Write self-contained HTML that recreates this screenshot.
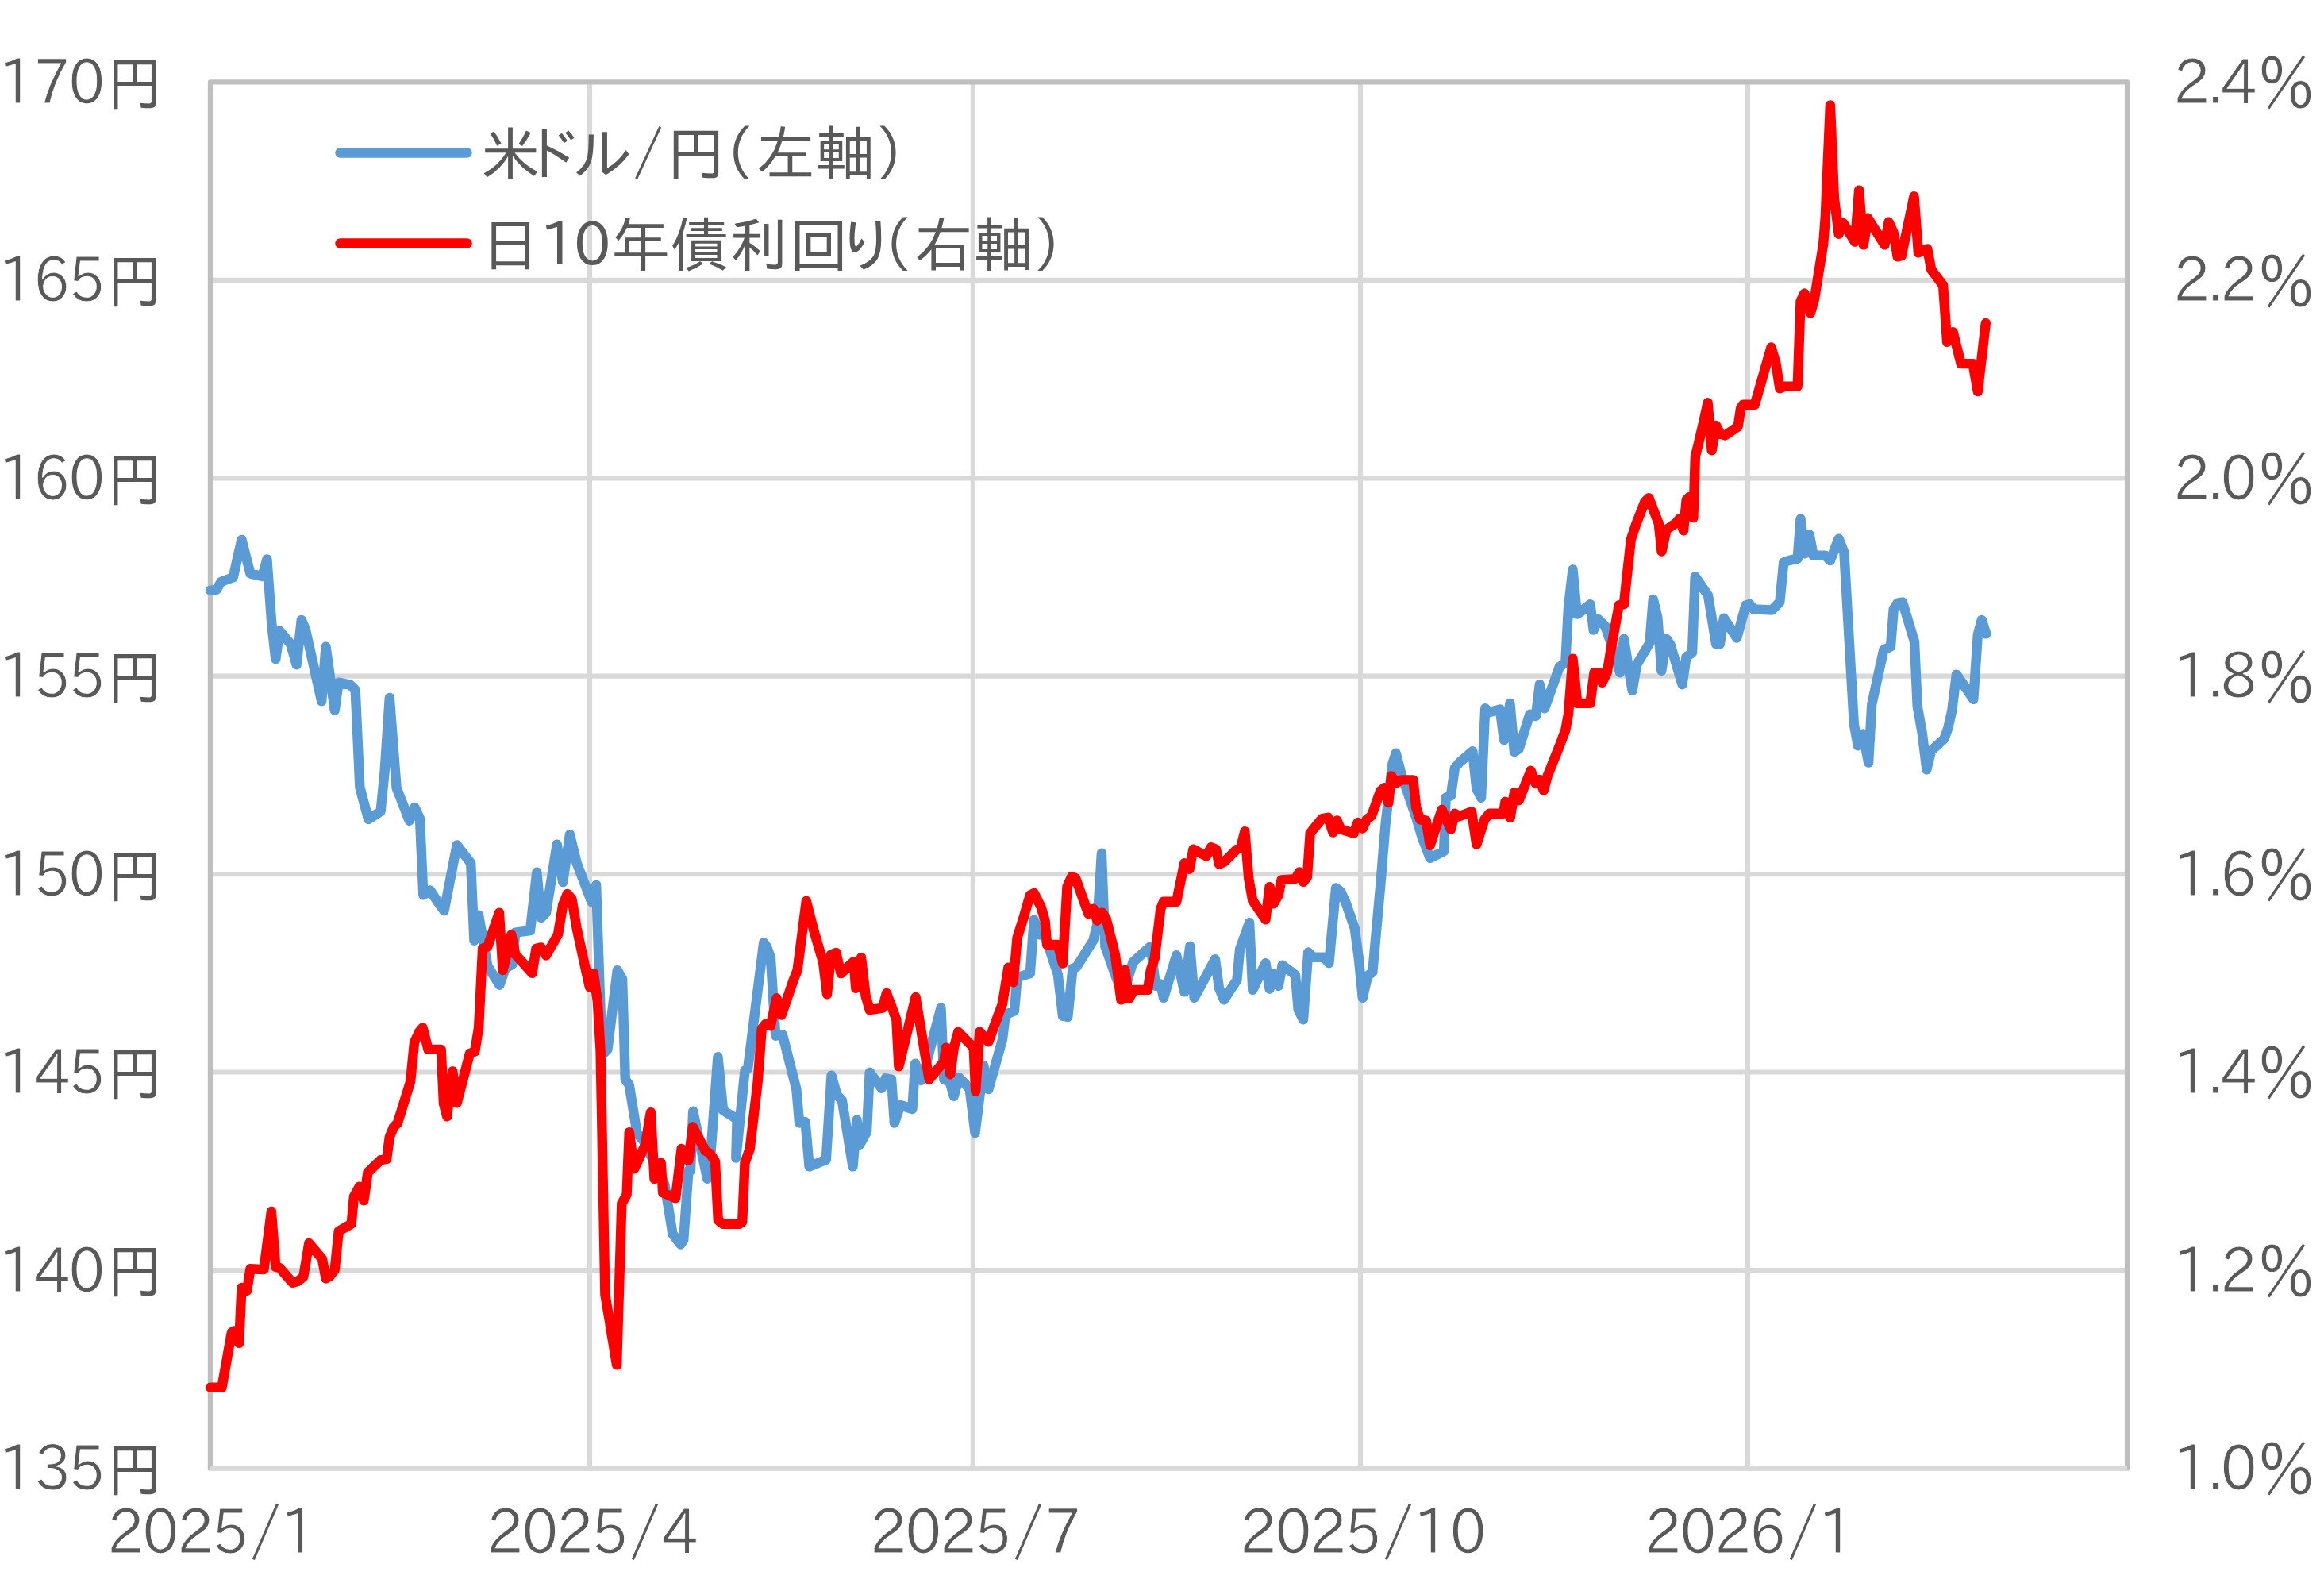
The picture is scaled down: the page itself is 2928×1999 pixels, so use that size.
<!DOCTYPE html><html lang="ja"><head><meta charset="utf-8"><title>米ドル/円(左軸) 日10年債利回り(右軸)</title>
<style>html,body{margin:0;padding:0;background:#fff;overflow:hidden}svg{display:block}text{font-family:"IPAGothic","Liberation Sans","Noto Sans CJK JP",sans-serif;fill:#595959}.p{font-family:"IPAPGothic","Liberation Sans","IPAGothic","Noto Sans CJK JP",sans-serif}</style></head><body>
<svg width="2928" height="1999" viewBox="0 0 2928 1999">
<rect width="2928" height="1999" fill="#fff"/>
<g stroke="#d9d9d9" stroke-width="6.2" fill="none">
<line x1="264.9" y1="352.8" x2="2680.0" y2="352.8"/>
<line x1="264.9" y1="602.3" x2="2680.0" y2="602.3"/>
<line x1="264.9" y1="851.7" x2="2680.0" y2="851.7"/>
<line x1="264.9" y1="1101.1" x2="2680.0" y2="1101.1"/>
<line x1="264.9" y1="1350.5" x2="2680.0" y2="1350.5"/>
<line x1="264.9" y1="1600.0" x2="2680.0" y2="1600.0"/>
<line x1="743.0" y1="103.4" x2="743.0" y2="1849.4"/>
<line x1="1225.9" y1="103.4" x2="1225.9" y2="1849.4"/>
<line x1="1714.0" y1="103.4" x2="1714.0" y2="1849.4"/>
<line x1="2202.0" y1="103.4" x2="2202.0" y2="1849.4"/>
</g>
<rect x="264.9" y="103.4" width="2415.1" height="1746.0" stroke="#bfbfbf" stroke-width="6.2" fill="none" stroke-linejoin="round"/>
<line x1="264.9" y1="1849.4" x2="2680.0" y2="1849.4" stroke="#d9d9d9" stroke-width="6.6"/>
<line x1="428.5" y1="192.5" x2="588.5" y2="192.5" stroke="#5b9bd5" stroke-width="12.4" stroke-linecap="round"/>
<line x1="428.5" y1="306.5" x2="588.5" y2="306.5" stroke="#ff0000" stroke-width="12.4" stroke-linecap="round"/>
<text x="606.0 656.1 721.9 798.1 839.6 912.4 952.7 1027.1 1102.8" y="221" font-size="75">米ドル/円(左軸)</text>
<text y="335.5" font-size="75"><tspan x="606.0">日</tspan><tspan class="p" x="680.0 722.9" font-size="74" dy="-2">10</tspan><tspan x="769.3 844.5 919.0 994.0 1054.3 1111.8 1151.4 1226.2 1301.8" dy="2">年債利回り(右軸)</tspan></text>
<polyline points="265.0,743.6 272.5,743.1 278.7,732.8 293.7,727.3 304.4,679.9 315.4,722.4 330.6,726.1 336.4,704.4 342.4,787.2 347.3,830.2 352.3,794.7 366.1,811.0 373.6,837.2 379.8,781.0 384.8,792.7 405.2,883.3 410.5,814.7 421.7,894.6 426.7,859.6 440.9,862.6 447.7,869.1 453.4,991.9 464.1,1031.9 479.6,1022.0 484.6,971.8 490.8,879.0 499.6,992.5 515.8,1033.7 522.5,1017.0 529.0,1031.2 533.3,1127.3 542.0,1121.5 550.7,1134.8 559.5,1147.2 575.7,1064.4 593.2,1087.3 597.4,1184.7 603.1,1152.7 614.4,1217.1 629.4,1240.8 636.8,1219.6 645.6,1214.6 649.3,1174.7 668.0,1172.2 676.3,1098.6 681.8,1156.0 688.0,1149.7 701.7,1063.6 709.2,1111.1 717.9,1051.2 726.7,1087.3 745.4,1136.0 751.1,1114.8 756.6,1274.5 760.4,1326.9 765.4,1321.9 777.8,1222.1 784.1,1233.3 787.8,1359.4 792.8,1366.9 802.5,1427.0 812.4,1439.4 837.5,1492.2 847.5,1554.6 857.4,1567.5 861.2,1562.0 867.4,1474.7 869.9,1474.7 873.2,1399.8 891.1,1484.7 894.9,1459.7 904.4,1331.2 911.1,1398.6 928.6,1409.8 927.3,1458.5 938.5,1348.4 942.2,1345.9 962.2,1187.4 965.9,1192.4 970.9,1206.1 977.2,1304.7 985.9,1303.4 1003.4,1372.1 1007.1,1414.5 1014.6,1413.2 1019.6,1469.4 1040.8,1460.7 1047.5,1354.6 1054.5,1379.5 1060.8,1385.8 1074.5,1469.4 1079.5,1410.7 1083.2,1441.9 1092.0,1425.7 1095.7,1350.8 1110.7,1370.8 1115.7,1358.3 1123.1,1359.6 1126.9,1414.5 1134.4,1392.0 1149.4,1397.0 1153.1,1339.6 1160.6,1360.8 1165.6,1344.6 1185.5,1269.7 1189.3,1359.6 1196.8,1363.3 1201.8,1380.8 1208.0,1357.1 1214.2,1363.3 1221.7,1372.1 1228.5,1427.0 1239.2,1342.1 1245.4,1372.1 1262.9,1309.7 1266.6,1279.7 1271.6,1276.0 1277.9,1273.5 1281.6,1231.1 1297.8,1226.1 1302.8,1158.7 1310.3,1177.4 1316.6,1178.6 1332.8,1227.3 1339.0,1279.7 1345.3,1281.0 1351.5,1219.8 1356.2,1218.2 1377.4,1184.5 1382.4,1164.5 1387.9,1074.7 1392.4,1192.0 1407.4,1234.4 1416.1,1249.4 1427.3,1212.0 1449.8,1192.0 1456.0,1241.9 1462.3,1239.4 1466.0,1256.9 1482.2,1203.2 1492.2,1249.4 1499.2,1192.0 1504.7,1256.9 1520.9,1226.9 1530.9,1208.2 1535.9,1244.4 1542.1,1259.4 1558.4,1234.4 1562.1,1195.7 1574.1,1162.0 1578.3,1246.9 1594.5,1213.2 1599.5,1245.6 1604.5,1226.9 1610.8,1241.9 1615.7,1215.7 1632.0,1228.2 1635.7,1271.8 1642.0,1284.3 1648.2,1199.5 1654.4,1205.7 1668.2,1205.7 1674.4,1213.2 1683.1,1118.4 1689.4,1123.4 1695.6,1137.1 1706.8,1169.5 1711.8,1207.0 1716.8,1256.9 1723.1,1229.4 1729.3,1224.4 1739.3,1114.6 1745.5,1038.5 1754.3,962.4 1758.7,948.7 1765.5,974.9 1784.2,1029.8 1791.7,1054.7 1801.7,1080.9 1819.1,1072.2 1821.6,1004.8 1827.9,1002.3 1832.9,967.4 1839.1,959.9 1855.3,946.2 1860.3,993.6 1866.1,1004.8 1871.2,892.2 1876.2,897.2 1889.9,893.4 1894.9,932.1 1897.4,924.6 1902.4,885.9 1907.9,947.1 1913.6,943.3 1927.4,899.7 1934.9,902.1 1939.8,862.2 1946.1,892.2 1964.8,839.8 1972.3,834.8 1976.0,764.9 1981.5,717.5 1986.8,773.6 1991.0,771.1 2003.5,761.1 2007.7,793.6 2013.5,779.9 2022.2,788.6 2034.7,824.8 2040.9,847.2 2045.9,804.8 2056.6,869.7 2062.1,837.3 2078.4,809.8 2082.8,754.9 2088.3,777.4 2093.3,844.7 2099.6,804.8 2104.6,812.3 2119.5,862.2 2124.5,827.3 2132.0,822.3 2135.7,726.2 2152.0,749.9 2162.0,811.1 2166.9,811.1 2171.9,778.6 2188.2,803.6 2199.4,762.4 2204.4,761.1 2209.4,767.4 2232.3,768.5 2242.3,758.5 2247.2,708.6 2253.5,706.1 2264.7,703.6 2268.5,653.7 2273.9,697.3 2279.7,673.6 2284.7,699.8 2299.7,699.8 2305.9,706.1 2316.6,678.6 2323.4,696.1 2335.8,912.0 2340.8,939.4 2347.1,924.4 2354.1,960.6 2358.3,887.0 2373.3,818.4 2382.0,814.6 2385.7,767.2 2390.7,759.7 2397.0,758.5 2412.0,808.4 2415.7,889.5 2421.9,924.4 2427.4,969.4 2433.2,945.6 2449.4,930.7 2454.4,916.9 2459.4,894.5 2464.9,849.6 2486.3,880.8 2491.8,799.7 2496.8,780.9 2502.3,798.4" fill="none" stroke="#5b9bd5" stroke-width="12.4" stroke-linejoin="round" stroke-linecap="round"/>
<polyline points="265.0,1747.6 279.5,1747.6 291.9,1678.2 294.9,1676.4 301.2,1691.9 304.4,1622.0 311.2,1625.8 315.4,1598.3 332.4,1599.1 341.9,1526.0 347.3,1595.8 352.3,1597.1 368.6,1615.8 374.8,1614.1 382.3,1608.3 389.3,1565.9 406.0,1585.9 410.5,1610.3 416.0,1607.1 421.7,1599.6 426.7,1550.9 442.7,1541.7 445.9,1507.2 452.7,1494.8 458.4,1512.2 463.4,1476.8 479.6,1461.1 487.1,1459.8 490.8,1432.4 495.8,1419.9 500.8,1414.9 517.1,1362.5 522.0,1313.2 528.3,1299.5 532.5,1294.5 539.5,1321.9 555.7,1321.9 559.0,1390.1 563.2,1406.3 570.2,1349.4 575.7,1389.3 591.9,1326.9 598.2,1324.4 603.1,1294.5 608.1,1194.7 614.4,1192.2 628.9,1149.7 633.6,1222.1 644.3,1177.2 649.3,1202.1 670.5,1225.9 675.5,1194.7 681.8,1193.4 688.0,1203.4 703.0,1177.2 709.2,1139.8 714.7,1126.0 720.4,1132.3 726.7,1169.7 739.2,1227.1 742.9,1243.3 747.9,1225.9 752.9,1262.0 756.6,1324.4 762.4,1630.8 777.1,1719.4 783.3,1516.0 789.6,1504.7 792.8,1426.1 799.1,1472.3 812.8,1442.4 819.8,1401.2 824.5,1484.8 832.7,1464.8 835.2,1502.3 851.1,1509.3 858.6,1446.9 867.3,1461.9 872.8,1419.5 888.6,1449.4 894.8,1453.2 901.0,1463.1 904.8,1537.0 911.0,1541.8 931.0,1541.8 935.2,1539.3 938.5,1464.6 944.7,1447.2 954.7,1362.3 959.7,1295.9 964.7,1289.7 970.9,1292.2 978.4,1257.3 984.6,1278.5 999.6,1234.8 1004.6,1222.3 1015.8,1135.0 1025.8,1173.7 1037.1,1212.3 1042.0,1252.3 1047.0,1202.4 1053.3,1199.9 1059.5,1226.1 1075.7,1211.1 1078.2,1244.8 1085.0,1206.1 1090.7,1254.8 1095.7,1272.2 1111.9,1269.7 1116.9,1251.0 1123.1,1267.2 1129.4,1284.7 1132.4,1343.4 1153.6,1256.0 1170.6,1359.6 1189.3,1337.1 1191.8,1319.7 1197.3,1353.3 1201.8,1319.7 1207.3,1299.7 1226.7,1319.7 1229.2,1374.6 1234.2,1299.7 1245.4,1312.2 1255.4,1284.7 1262.9,1264.7 1270.4,1218.6 1276.6,1237.3 1281.6,1181.1 1289.1,1157.4 1297.8,1127.5 1302.8,1125.0 1311.6,1142.5 1316.6,1159.9 1319.1,1189.9 1332.8,1189.9 1339.0,1213.6 1344.5,1117.1 1350.0,1104.6 1355.0,1105.9 1371.2,1150.8 1377.4,1144.6 1382.4,1159.5 1388.6,1149.6 1393.6,1157.1 1404.9,1202.0 1412.4,1259.4 1417.3,1221.9 1422.3,1258.1 1428.6,1246.9 1446.0,1246.9 1449.8,1221.9 1454.8,1207.0 1462.3,1144.6 1466.0,1135.8 1482.2,1135.8 1492.2,1087.2 1498.5,1094.7 1503.4,1069.7 1519.7,1078.4 1525.9,1067.2 1532.1,1069.7 1535.9,1088.4 1542.1,1085.9 1558.4,1069.7 1563.3,1067.2 1568.3,1047.2 1573.3,1107.1 1578.3,1134.6 1594.5,1158.3 1599.5,1117.1 1604.5,1138.3 1610.8,1127.1 1614.5,1108.4 1632.0,1107.1 1637.0,1098.4 1642.0,1110.9 1646.9,1104.6 1650.7,1049.7 1654.4,1044.7 1665.7,1031.0 1673.1,1029.8 1679.4,1048.5 1684.4,1033.5 1689.4,1044.7 1705.6,1049.7 1710.6,1036.0 1716.8,1043.5 1721.8,1032.3 1728.1,1027.3 1739.3,996.1 1744.3,992.3 1749.3,1011.1 1753.0,977.4 1759.2,986.1 1765.5,982.4 1780.5,982.4 1784.2,1017.3 1789.2,1032.3 1796.7,1033.5 1801.7,1064.7 1816.6,1019.8 1827.9,1044.7 1832.9,1024.8 1837.9,1028.5 1854.1,1022.3 1860.3,1063.5 1870.3,1032.3 1876.5,1024.8 1894.0,1024.8 1896.5,1009.8 1902.7,1029.8 1907.9,998.2 1913.6,1008.2 1928.6,970.8 1934.9,987.0 1939.8,982.0 1944.8,995.7 1949.8,977.0 1964.8,939.6 1972.3,919.6 1976.0,899.7 1981.5,829.8 1987.3,885.9 2003.5,885.9 2008.5,847.2 2014.7,847.2 2018.5,859.7 2024.7,847.2 2029.7,817.3 2039.7,762.4 2045.9,761.1 2054.8,679.5 2061.1,660.8 2072.3,632.1 2077.3,627.1 2089.8,659.5 2093.5,694.5 2099.7,667.0 2112.2,658.3 2116.0,653.3 2121.0,668.3 2124.7,629.6 2128.4,625.9 2133.4,652.1 2135.9,574.7 2140.9,554.7 2147.2,527.3 2151.6,507.3 2156.6,567.2 2162.1,536.0 2167.1,546.0 2173.4,548.5 2189.6,537.3 2193.3,513.6 2195.8,509.8 2210.8,509.8 2231.5,437.4 2237.3,456.9 2242.3,489.3 2248.5,486.8 2264.7,486.8 2268.5,379.5 2273.4,369.5 2280.9,394.5 2285.9,377.0 2297.2,307.1 2299.7,274.7 2305.9,132.4 2310.9,249.7 2316.6,294.7 2322.1,280.9 2337.1,304.6 2342.1,239.8 2347.8,308.4 2353.3,274.7 2359.5,284.7 2374.5,308.4 2379.5,279.7 2385.7,293.4 2390.7,323.4 2395.7,322.1 2411.5,247.2 2416.9,318.4 2428.2,313.4 2433.2,339.6 2448.1,359.5 2453.1,430.7 2460.6,418.2 2470.6,458.1 2485.6,458.1 2491.8,493.1 2501.8,407.0" fill="none" stroke="#ff0000" stroke-width="12.4" stroke-linejoin="round" stroke-linecap="round"/>
<text transform="translate(0.0 131.0) scale(0.94 1)"><tspan class="p" stroke="#fff" stroke-width="0.9" font-size="78" x="-2.7 45.2 91.9" y="0.0">170</tspan><tspan font-size="76" x="142.9" y="1.8">円</tspan></text>
<text transform="translate(0.0 380.4) scale(0.94 1)"><tspan class="p" stroke="#fff" stroke-width="0.9" font-size="78" x="-2.7 44.4 91.5" y="0.0">165</tspan><tspan font-size="76" x="142.9" y="1.8">円</tspan></text>
<text transform="translate(0.0 629.9) scale(0.94 1)"><tspan class="p" stroke="#fff" stroke-width="0.9" font-size="78" x="-2.7 44.4 91.9" y="0.0">160</tspan><tspan font-size="76" x="142.9" y="1.8">円</tspan></text>
<text transform="translate(0.0 879.3) scale(0.94 1)"><tspan class="p" stroke="#fff" stroke-width="0.9" font-size="78" x="-2.7 44.7 91.5" y="0.0">155</tspan><tspan font-size="76" x="142.9" y="1.8">円</tspan></text>
<text transform="translate(0.0 1128.7) scale(0.94 1)"><tspan class="p" stroke="#fff" stroke-width="0.9" font-size="78" x="-2.7 44.7 91.9" y="0.0">150</tspan><tspan font-size="76" x="142.9" y="1.8">円</tspan></text>
<text transform="translate(0.0 1378.1) scale(0.94 1)"><tspan class="p" stroke="#fff" stroke-width="0.9" font-size="78" x="-2.7 45.2 91.5" y="0.0">145</tspan><tspan font-size="76" x="142.9" y="1.8">円</tspan></text>
<text transform="translate(0.0 1627.6) scale(0.94 1)"><tspan class="p" stroke="#fff" stroke-width="0.9" font-size="78" x="-2.7 45.2 91.9" y="0.0">140</tspan><tspan font-size="76" x="142.9" y="1.8">円</tspan></text>
<text transform="translate(0.0 1877.0) scale(0.94 1)"><tspan class="p" stroke="#fff" stroke-width="0.9" font-size="78" x="-2.7 46.6 91.5" y="0.0">135</tspan><tspan font-size="76" x="142.9" y="1.8">円</tspan></text>
<text transform="translate(2700.0 131.0) scale(0.94 1)"><tspan class="p" stroke="#fff" stroke-width="0.9" font-size="78" x="40.4 87.3 103.8" y="0.0">2.4</tspan><tspan class="p" stroke="#fff" stroke-width="0.9" font-size="89" x="154.2" y="5.3">%</tspan></text>
<text transform="translate(2700.0 380.4) scale(0.94 1)"><tspan class="p" stroke="#fff" stroke-width="0.9" font-size="78" x="40.4 87.3 103.2" y="0.0">2.2</tspan><tspan class="p" stroke="#fff" stroke-width="0.9" font-size="89" x="154.2" y="5.3">%</tspan></text>
<text transform="translate(2700.0 629.9) scale(0.94 1)"><tspan class="p" stroke="#fff" stroke-width="0.9" font-size="78" x="40.4 87.3 103.6" y="0.0">2.0</tspan><tspan class="p" stroke="#fff" stroke-width="0.9" font-size="89" x="154.2" y="5.3">%</tspan></text>
<text transform="translate(2700.0 879.3) scale(0.94 1)"><tspan class="p" stroke="#fff" stroke-width="0.9" font-size="78" x="39.9 87.3 103.5" y="0.0">1.8</tspan><tspan class="p" stroke="#fff" stroke-width="0.9" font-size="89" x="154.2" y="5.3">%</tspan></text>
<text transform="translate(2700.0 1128.7) scale(0.94 1)"><tspan class="p" stroke="#fff" stroke-width="0.9" font-size="78" x="39.9 87.3 102.9" y="0.0">1.6</tspan><tspan class="p" stroke="#fff" stroke-width="0.9" font-size="89" x="154.2" y="5.3">%</tspan></text>
<text transform="translate(2700.0 1378.1) scale(0.94 1)"><tspan class="p" stroke="#fff" stroke-width="0.9" font-size="78" x="39.9 87.3 103.8" y="0.0">1.4</tspan><tspan class="p" stroke="#fff" stroke-width="0.9" font-size="89" x="154.2" y="5.3">%</tspan></text>
<text transform="translate(2700.0 1627.6) scale(0.94 1)"><tspan class="p" stroke="#fff" stroke-width="0.9" font-size="78" x="39.9 87.3 103.2" y="0.0">1.2</tspan><tspan class="p" stroke="#fff" stroke-width="0.9" font-size="89" x="154.2" y="5.3">%</tspan></text>
<text transform="translate(2700.0 1877.0) scale(0.94 1)"><tspan class="p" stroke="#fff" stroke-width="0.9" font-size="78" x="39.9 87.3 103.6" y="0.0">1.0</tspan><tspan class="p" stroke="#fff" stroke-width="0.9" font-size="89" x="154.2" y="5.3">%</tspan></text>
<text transform="translate(264.9 1956.8) scale(0.94 1)"><tspan class="p" stroke="#fff" stroke-width="0.9" font-size="78" x="-138.3 -91.1 -44.7 2.1" y="0.0">2025</tspan><tspan font-size="80" x="54.0" y="3.4">/</tspan><tspan class="p" stroke="#fff" stroke-width="0.9" font-size="78" x="94.1" y="0.0">1</tspan></text>
<text transform="translate(743.0 1956.8) scale(0.94 1)"><tspan class="p" stroke="#fff" stroke-width="0.9" font-size="78" x="-138.3 -91.1 -44.7 2.1" y="0.0">2025</tspan><tspan font-size="80" x="54.0" y="3.4">/</tspan><tspan class="p" stroke="#fff" stroke-width="0.9" font-size="78" x="96.3" y="0.0">4</tspan></text>
<text transform="translate(1225.9 1956.8) scale(0.94 1)"><tspan class="p" stroke="#fff" stroke-width="0.9" font-size="78" x="-138.3 -91.1 -44.7 2.1" y="0.0">2025</tspan><tspan font-size="80" x="54.0" y="3.4">/</tspan><tspan class="p" stroke="#fff" stroke-width="0.9" font-size="78" x="96.2" y="0.0">7</tspan></text>
<text transform="translate(1714.0 1956.8) scale(0.94 1)"><tspan class="p" stroke="#fff" stroke-width="0.9" font-size="78" x="-161.7 -114.5 -68.1 -21.3" y="0.0">2025</tspan><tspan font-size="80" x="30.6" y="3.4">/</tspan><tspan class="p" stroke="#fff" stroke-width="0.9" font-size="78" x="70.7 119.6" y="0.0">10</tspan></text>
<text transform="translate(2202.0 1956.8) scale(0.94 1)"><tspan class="p" stroke="#fff" stroke-width="0.9" font-size="78" x="-138.3 -91.1 -44.7 1.8" y="0.0">2026</tspan><tspan font-size="80" x="54.0" y="3.4">/</tspan><tspan class="p" stroke="#fff" stroke-width="0.9" font-size="78" x="94.1" y="0.0">1</tspan></text>
</svg></body></html>
